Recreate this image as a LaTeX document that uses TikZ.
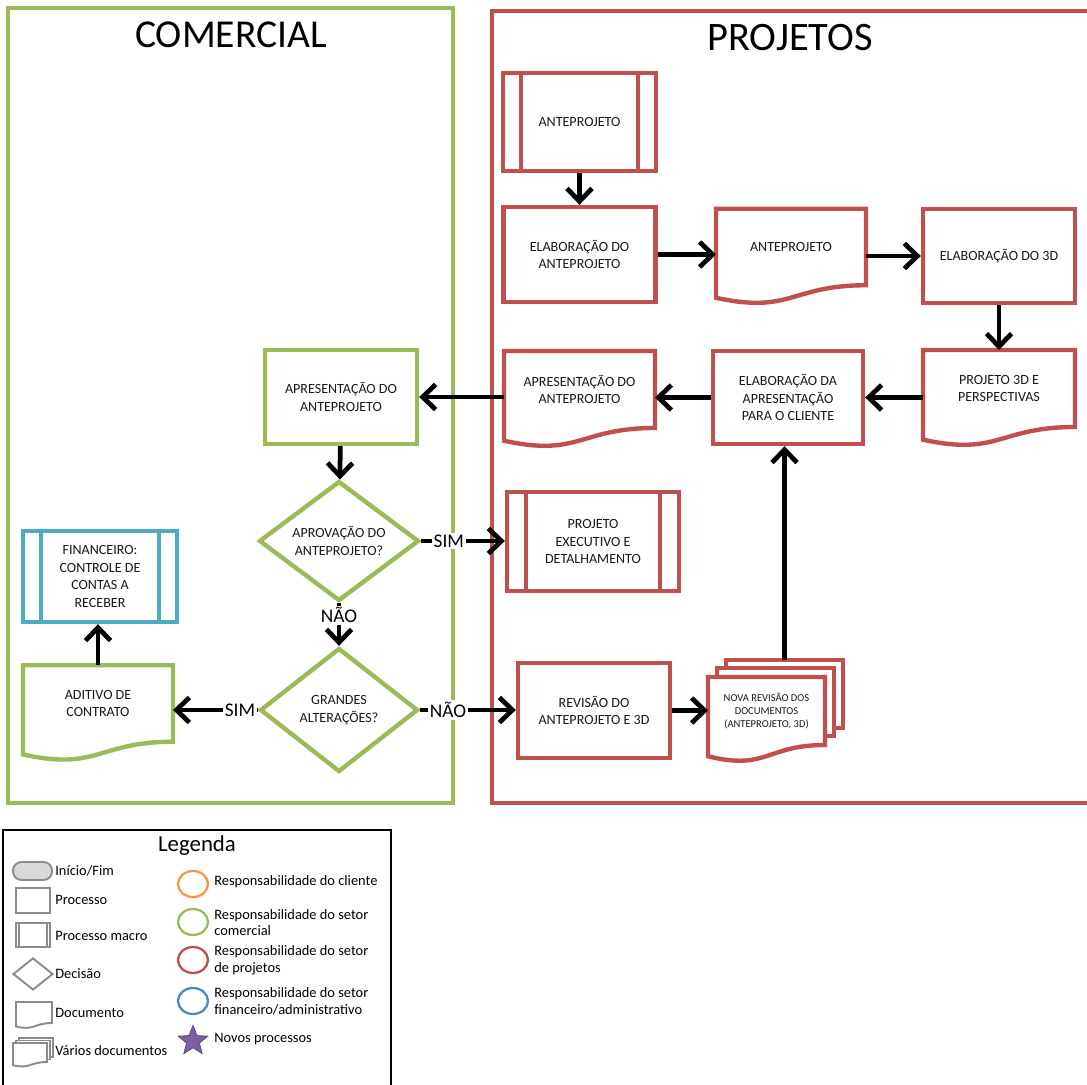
\documentclass[tikz,border=0pt]{standalone}
\usepackage{fontspec}
\setmainfont{Carlito}
\usepackage{tikz}
\usetikzlibrary{arrows.meta, calc, shapes.geometric, backgrounds}

\definecolor{grn}{HTML}{9BBB59}
\definecolor{rd}{HTML}{C0504D}
\definecolor{aqua}{HTML}{4BACC6}
\definecolor{orng}{HTML}{F79646}
\definecolor{blu}{HTML}{4A86D0}
\definecolor{purp}{HTML}{7D5FA6}
\definecolor{legray}{HTML}{8C8C8C}

\newcommand{\boxfont}{\fontsize{8}{10}\selectfont}
\newcommand{\legfont}{\fontsize{8.2}{9.6}\selectfont}
\newcommand{\docwave}[3]{%
  \draw[#2] (#1.south east) -- (#1.north east) -- (#1.north west) -- ($(#1.south west)+(0,0.165*#3)$)
    .. controls ($(#1.south)+(0,0.381*#3)$) and (#1.south) .. (#1.south east) -- cycle;}
\newcommand{\macrolines}[3]{%
  \draw[#2] ($(#1.north west)+(#3,0)$) -- ($(#1.south west)+(#3,0)$)
    ($(#1.north east)+(-#3,0)$) -- ($(#1.south east)+(-#3,0)$);}

\begin{document}
\begin{tikzpicture}[x=0.02cm, y=-0.02cm,
    boxline/.style={line width=2.5pt},
    proc/.style={draw=#1, boxline, rectangle, minimum width=3.04cm, minimum height=1.9cm,
      align=center, font=\boxfont, text=black!90, inner sep=2pt},
    docbox/.style={rectangle, minimum width=3cm, minimum height=1.53cm, outer sep=0pt,
      align=center, font=\boxfont, text=black!90, inner sep=2pt},
    decis/.style={diamond, draw=grn, boxline, minimum width=3.2cm, minimum height=2.4cm,
      aspect=1.33, align=center, font=\boxfont, text=black!90, inner sep=0pt},
    arr/.style={line width=2.7pt, -{Straight Barb[length=2.6mm,width=5mm]}},
    lbl/.style={fill=white, inner sep=1pt, font=\fontsize{11}{13}\selectfont},
    legicon/.style={draw=legray, line width=1.1pt},
    legtxt/.style={anchor=west, align=left, font=\legfont, inner sep=0pt},
    legring/.style={ellipse, draw=#1, line width=1.3pt, minimum width=0.6cm, minimum height=0.52cm}]
\useasboundingbox (0,0) rectangle (1087,1084);

\draw[grn, line width=2.5pt] (8,8) rectangle (453,803);
\draw[rd, line width=2.5pt] (1095,11) -- (492,11) -- (492,803) -- (1095,803);
\node[font=\fontsize{22.5}{25}\selectfont] (comercial) at (231,35) {COMERCIAL};
\node[font=\fontsize{23}{25}\selectfont] (projetos) at (790,38) {PROJETOS};

\node[proc=rd, minimum width=3.06cm, minimum height=1.96cm] (macroante) at (579.5,122) {ANTEPROJETO};
\macrolines{macroante}{rd, boxline}{20}
\node[proc=rd] (elabante) at (579.5,254.5) {ELABORAÇÃO DO\\ANTEPROJETO};
\node[docbox] (docante) at (791,247) {ANTEPROJETO};
\node[proc=rd, minimum height=1.88cm] (elab3d) at (999,256) {ELABORAÇÃO DO 3D};
\node[docbox, minimum width=3.04cm, minimum height=1.54cm] (doc3d) at (999,388.5) {PROJETO 3D E\\PERSPECTIVAS};
\node[proc=rd, minimum width=3cm, minimum height=1.86cm] (elabapres) at (788,397.5) {ELABORAÇÃO DA\\APRESENTAÇÃO\\PARA O CLIENTE};
\node[docbox, minimum width=3.02cm, minimum height=1.54cm] (docapres) at (579.5,389.5) {APRESENTAÇÃO DO\\ANTEPROJETO};
\node[proc=grn, minimum height=1.88cm] (apres) at (341,397) {APRESENTAÇÃO DO\\ANTEPROJETO};
\node[decis] (aprov) at (339,541) {APROVAÇÃO DO\\ANTEPROJETO?};
\node[decis, minimum width=3.16cm, minimum height=2.48cm] (grandes) at (339,710) {GRANDES\\ALTERAÇÕES?};
\node[proc=rd, minimum width=3.44cm, minimum height=1.98cm] (projexec) at (593,541.5) {PROJETO\\EXECUTIVO E\\DETALHAMENTO};
\macrolines{projexec}{rd, boxline}{21}
\node[proc=rd] (revisao) at (594,710.5) {REVISÃO DO\\ANTEPROJETO E 3D};
\node[docbox, minimum width=2.34cm, minimum height=1.36cm, font=\fontsize{6}{7.3}\selectfont] (novarev) at (766.5,711) {NOVA REVISÃO DOS\\DOCUMENTOS\\(ANTEPROJETO, 3D)};
\coordinate (novatop) at ($(novarev.north)+(18,-17)$);
\node[proc=aqua, minimum width=3.08cm, minimum height=1.82cm] (financeiro) at (100,576.5) {FINANCEIRO:\\CONTROLE DE\\CONTAS A\\RECEBER};
\macrolines{financeiro}{aqua, boxline}{20}
\node[docbox] (aditivo) at (98,703.5) {ADITIVO DE\\CONTRATO};

\begin{scope}[on background layer]
\docwave{docante}{rd, boxline, fill=white}{76}
\docwave{doc3d}{rd, boxline, fill=white}{77}
\docwave{docapres}{rd, boxline, fill=white}{77}
\docwave{aditivo}{grn, boxline, fill=white}{77}
\draw[rd, boxline, fill=white] ($(novarev.north west)+(18,-17)$) rectangle ($(novarev.south east)+(18,-17)$);
\draw[rd, boxline, fill=white] ($(novarev.north west)+(9,-9)$) rectangle ($(novarev.south east)+(9,-9)$);
\docwave{novarev}{rd, boxline, fill=white}{68}
\end{scope}

\draw[arr] (macroante) -- (elabante);
\draw[arr] (elabante.east) -- (elabante.east -| docante.west);
\draw[arr] (docante.east |- elab3d.west) -- (elab3d.west);
\draw[arr] (elab3d) -- (doc3d);
\draw[arr] (doc3d.west |- elabapres.east) -- (elabapres.east);
\draw[arr] (elabapres.west) -- (elabapres.west -| docapres.east);
\draw[arr] (docapres.west |- apres.east) -- (apres.east);
\draw[arr] (apres) -- (aprov);
\draw[arr] (aprov.east) -- (aprov.east -| projexec.west) node[lbl, pos=0.33] {SIM};
\draw[arr] (aprov) -- (grandes) node[lbl, pos=0.28] {NÃO};
\draw[arr] (grandes.east) -- (grandes.east -| revisao.west) node[lbl, pos=0.29] {NÃO};
\draw[arr] (grandes.west) -- (grandes.west -| aditivo.east) node[lbl, pos=0.21] {SIM};
\draw[arr] (aditivo.north) -- (aditivo.north |- financeiro.south);
\draw[arr] (revisao.east) -- (revisao.east -| novarev.west);
\draw[arr] (novatop) -- (novatop |- elabapres.south);

\draw[black, line width=1.5pt] (3,1095) -- (3,830) -- (391,830) -- (391,1095);
\node[font=\fontsize{13}{15}\selectfont] (legenda) at (197,846) {Legenda};
\node[legicon, fill=black!15, rounded corners=0.17cm, minimum width=0.78cm, minimum height=0.36cm] (lgterm) at (32.5,871) {};
\node[legtxt] (lgtermtxt) at (55,871) {Início/Fim};
\node[legicon, minimum width=0.68cm, minimum height=0.5cm] (lgproc) at (33,900.5) {};
\node[legtxt] (lgproctxt) at (55,900) {Processo};
\node[legicon, minimum width=0.68cm, minimum height=0.48cm] (lgmacro) at (33,935) {};
\macrolines{lgmacro}{legicon}{4}
\node[legtxt] (lgmacrotxt) at (55,936) {Processo macro};
\node[legicon, diamond, aspect=1.25, minimum width=0.8cm, minimum height=0.64cm, inner sep=0pt] (lgdec) at (33,974) {};
\node[legtxt] (lgdectxt) at (55,974) {Decisão};
\node[docbox, minimum width=0.72cm, minimum height=0.42cm] (lgdoc) at (34,1012.5) {};
\docwave{lgdoc}{legicon}{21}
\node[legtxt] (lgdoctxt) at (55,1013) {Documento};
\node[docbox, minimum width=0.68cm, minimum height=0.38cm] (lgdocs) at (30,1052.5) {};
\draw[legicon, fill=white] ($(lgdocs.north west)+(6,-5)$) rectangle ($(lgdocs.south east)+(6,-5)$);
\draw[legicon, fill=white] ($(lgdocs.north west)+(3,-2.5)$) rectangle ($(lgdocs.south east)+(3,-2.5)$);
\docwave{lgdocs}{legicon, fill=white}{19}
\node[legtxt] (lgdocstxt) at (55,1051) {Vários documentos};

\node[legring=orng] (lgcli) at (193,884) {};
\node[legtxt] (lgclitxt) at (214,882) {Responsabilidade do cliente};
\node[legring=grn] (lgcom) at (193,922) {};
\node[legtxt] (lgcomtxt) at (214,922.5) {Responsabilidade do setor\\comercial};
\node[legring=rd] (lgproj) at (193,960) {};
\node[legtxt] (lgprojtxt) at (214,960) {Responsabilidade do setor\\de projetos};
\node[legring=blu] (lgfin) at (193,1001) {};
\node[legtxt] (lgfintxt) at (214,1001) {Responsabilidade do setor\\financeiro/administrativo};
\node[star, star points=5, star point ratio=2.3, fill=purp, draw=purp!80!black, line width=0.5pt, minimum size=0.62cm, inner sep=0pt] (lgnovo) at (193,1041) {};
\node[legtxt] (lgnovotxt) at (214,1039) {Novos processos};
\end{tikzpicture}
\end{document}
